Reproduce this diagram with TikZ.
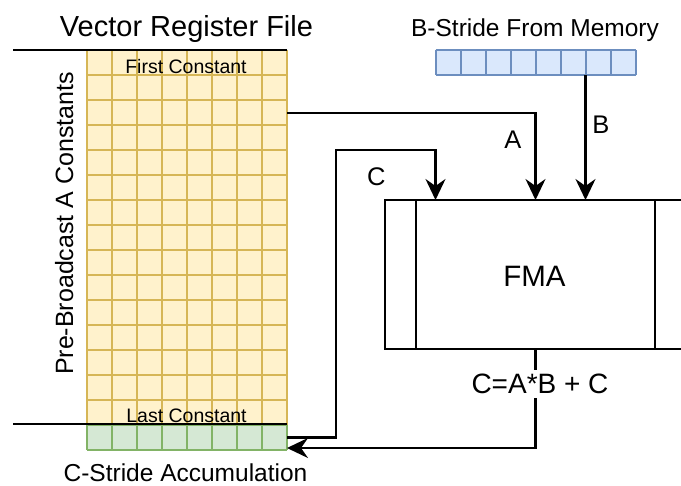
\documentclass[tikz,border=0pt]{standalone}
\usepackage{fontspec}
\setmainfont{Liberation Sans}
\usetikzlibrary{arrows.meta}

\definecolor{yfill}{HTML}{FFF2CC}
\definecolor{ydraw}{HTML}{D6B656}
\definecolor{bfill}{HTML}{DAE8FC}
\definecolor{bdraw}{HTML}{6C8EBF}
\definecolor{gfill}{HTML}{D5E8D4}
\definecolor{gdraw}{HTML}{82B366}

\newcommand{\fs}[1]{\fontsize{#1}{#1}\selectfont}

\begin{document}
\begin{tikzpicture}[x=1pt, y=-1pt,
  wire/.style={draw=black, line width=2.2pt},
  flow/.style={wire, -{Stealth[length=21pt, width=20pt, inset=7pt]}},
  cellA/.style={draw=ydraw, line width=2pt},
  cellB/.style={draw=bdraw, line width=2pt},
  cellC/.style={draw=gdraw, line width=2pt},
  lbl/.style={inner sep=0pt, anchor=base},
  block/.style={inner sep=0pt, outer sep=0pt, anchor=north west},
]
\clip (0,0) rectangle (681,486);

% ---- vector register file: 15 rows x 8 lanes ----
\node[block, fill=yfill, minimum width=200pt, minimum height=375pt] (vrf) at (87,50) {};
\foreach \i in {0,...,8}
  \draw[cellA] ({87+25*\i},50) -- ({87+25*\i},425);
\foreach \j in {0,...,15}
  \draw[cellA] (87,{50+25*\j}) -- (287,{50+25*\j});

% ---- accumulator row ----
\node[block, fill=gfill, minimum width=200pt, minimum height=25pt] (acc) at (87,425) {};
\foreach \i in {0,...,8}
  \draw[cellC] ({87+25*\i},425) -- ({87+25*\i},450);
\draw[cellC] (87,425) -- (287,425) (87,450) -- (287,450);

% ---- B stride from memory ----
\node[block, fill=bfill, minimum width=200pt, minimum height=25pt] (bstride) at (435.5,50.5) {};
\foreach \i in {0,...,8}
  \draw[cellB] ({435.5+25*\i},50.5) -- ({435.5+25*\i},75.5);
\draw[cellB] (435.5,50.5) -- (635.5,50.5) (435.5,75.5) -- (635.5,75.5);

% ---- register file boundary lines ----
\draw[wire] (13,50) -- (vrf.north east);
\draw[wire] (13,424) -- (287,424);

% ---- FMA unit (process box) ----
\node[block, wire, fill=white, minimum width=301pt, minimum height=149pt] (fma) at (385,200) {};
\draw[wire] (416,200) -- (416,349);
\draw[wire] (655,200) -- (655,349);

% ---- texts ----
\node[lbl] (title) at (186.5,37) {\fs{29}Vector Register File};
\node[lbl] (btitle) at (535,37) {\fs{24.5}B-Stride From Memory};
\node[lbl] (first) at (186,74) {\fs{19.5}First Constant};
\node[lbl] (last) at (186.5,422.5) {\fs{19.5}Last Constant};
\node[lbl] (ctitle) at (185.5,482) {\fs{24.5}C-Stride Accumulation};
\node[lbl, rotate=90] (pre) at (73,223.5) {\fs{25}Pre-Broadcast A Constants};
\node[lbl] (fmatext) at (534.5,287) {\fs{29.5}FMA};

% ---- connectors ----
\coordinate (bTap) at ([xshift=50pt]bstride.south);
\coordinate (cIn) at ([xshift=-100pt]fma.north);
\coordinate (cBend) at (336,150);
\coordinate (accIn) at ([yshift=2pt]acc.south east);

\draw[flow] ([yshift=-63pt]vrf.north east) -| (fma.north);
\draw[flow] (bTap) -- (bTap |- fma.north);
\draw[flow] (acc.east) -| (cBend) -| (cIn);
\draw[flow] (fma.south) |- (accIn);

\node[lbl] (alab) at (513,149) {\fs{25.5}A};
\node[lbl] (blab) at (601,134) {\fs{25.5}B};
\node[lbl] (clab) at (376.3,185.5) {\fs{25.5}C};
\node[lbl, fill=white, inner sep=4pt] (eq) at (540,394) {\fs{28}C=A*B + C};
\end{tikzpicture}
\end{document}
